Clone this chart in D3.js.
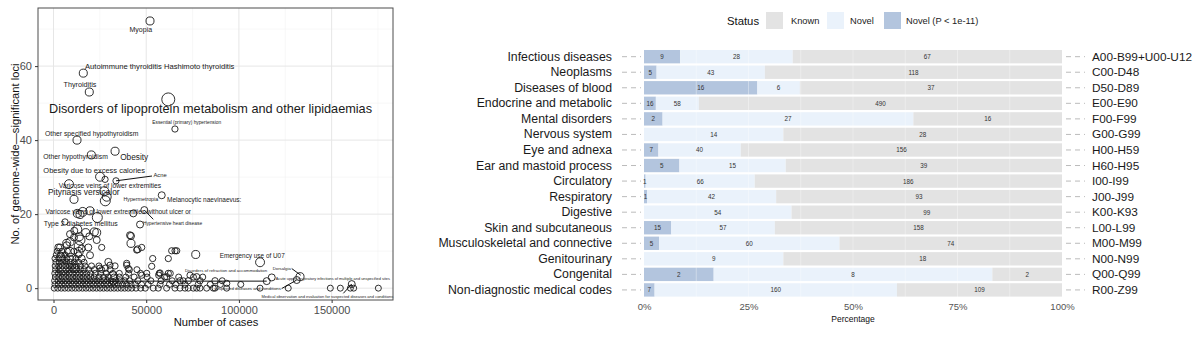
<!DOCTYPE html>
<html>
<head>
<meta charset="utf-8">
<script src="https://cdn.jsdelivr.net/npm/d3@7"></script>
<style>
  html, body { margin: 0; padding: 0; background: #fff; }
  svg { display: block; font-family: "Liberation Sans", Arial, Helvetica, sans-serif; }
</style>
</head>
<body>
<svg id="chart" width="1200" height="337"></svg>
<script>
// ===== DATA: scatter (cases vs genome-wide significant loci) =====
// each point: [number of cases, loci, weight]
const namedPoints = [
    [52050, 72.2, 3.3], [16070, 58.1, 3.3], [19300, 53, 3.3], [61900, 51, 8.6],
    [65500, 43, 2], [12680, 40, 3.3], [20400, 36, 3.3], [33200, 37, 3.3],
    [33700, 29, 2], [111400, 7, 4.1], [132960, 3.1, 3.3], [131180, 2.2, 2.5],
    [160850, 1.1, 2.5], [115000, 1.9, 2.5], [117700, 2.9, 2.5]
];
const otherPoints = [
    [25100, 30.1, 4.1], [27800, 29.4, 2], [8360, 28.1, 4.1], [27400, 26.2, 4.1],
    [28700, 24.7, 4.1], [27940, 23.6, 5.1], [11060, 24, 3.3], [12840, 20.2, 3.3],
    [15750, 20.6, 4.1], [19690, 20.9, 3.3], [14290, 19.9, 3.3], [23630, 19.1, 5.1],
    [6200, 17.9, 2], [46660, 17.2, 2.5], [48980, 21.1, 2.5], [43040, 20.2, 2.5],
    [58370, 25.1, 2.5], [12840, 15.9, 4.1], [17370, 15, 3.3], [23300, 15, 3.3],
    [8900, 14.6, 2.5], [14290, 13, 5.1], [23300, 13, 2.5], [2590, 11, 2.5],
    [7120, 12.1, 3.3], [11060, 13.7, 2.5], [13590, 11.4, 4.1], [18770, 11, 2.5],
    [26000, 11, 2], [41800, 14.1, 2.5], [41800, 12.1, 3.3], [45420, 10.5, 2.5],
    [47580, 11, 2], [8900, 9.8, 4.1], [13590, 9.8, 4.1], [19690, 8.9, 2.5],
    [3880, 8.5, 3.3], [9280, 8, 5.1], [15210, 8, 2.5], [29560, 7.1, 2.5],
    [30480, 6.2, 2], [33170, 6, 2], [39480, 6.2, 2], [40350, 5.3, 2],
    [53500, 8, 2], [52970, 5.9, 2], [61920, 8, 2], [63750, 10.1, 2],
    [65540, 10.1, 2], [56740, 3.5, 2], [61060, 3.1, 2], [50270, 4, 2],
    [47580, 3.5, 2], [31930, 3.1, 5.1], [5290, 5.3, 7.3], [11600, 5.3, 3.3],
    [44880, 10.3, 2], [66450, 10.1, 2], [76700, 9.1, 3.3], [57450, 4.1, 2],
    [61920, 4, 2], [39480, 6.7, 2], [40890, 5, 2], [68240, 2, 2],
    [72710, 2, 2], [79020, 2, 2], [87110, 2, 2], [93420, 1.3, 2],
    [73630, 3.5, 2], [77240, 3.1, 2], [32260, 1.7, 2], [25000, 5.4, 2],
    [28000, 5.4, 2], [11200, 15.5, 2.5], [13900, 13.9, 3.3], [8900, 12.5, 3.3],
    [19300, 14, 2.5], [22000, 15.2, 3.3], [3500, 11, 2.5], [7100, 11.6, 2.5],
    [15200, 10.7, 2.5], [41260, 14.3, 2.5]
];
// small-count rows, number of cases read per loci level
const casesAt0 = [400, 2300, 4200, 6100, 8000, 9900, 11800, 13700, 15600, 17500, 19400, 21300, 23200,
    25100, 27000, 28900, 30800, 32700, 34600, 36500, 38400, 40300, 42200, 44500, 47000, 49500, 53800,
    56500, 61000, 65500, 68200, 70900, 72700, 75400, 77200, 79000, 82600, 86200, 87100, 93400, 111400,
    126600, 149300, 154700, 160100, 161900, 175200];
const casesAt1 = [800, 2700, 4600, 6500, 8400, 10300, 12200, 14100, 16000, 17900, 19800, 21700, 23600,
    25500, 27400, 29300, 31200, 33100, 35000, 37200, 39500, 41800, 44000, 47500, 51000, 57500, 62500,
    66000, 71000, 78000, 84500, 90000, 101000];
const casesAt2 = [600, 2500, 4400, 6300, 8200, 10100, 12000, 13900, 15800, 17700, 19600, 21500, 23400,
    25300, 27200, 29100, 31000, 33500, 36000, 38500, 41000, 45500, 52500, 58000, 64000, 70000, 91000];
const casesAt3 = [1000, 2900, 4800, 6700, 8600, 10500, 12400, 14300, 16200, 18100, 20000, 22000, 24500,
    27000, 29500, 32500, 35500, 39000, 43500, 50500, 60000, 67500, 75500, 80500];
const casesAt4 = [700, 2600, 4500, 6400, 8300, 10200, 12100, 14000, 15900, 17800, 20000, 22500, 25500,
    28500, 32000, 35500, 40500, 47000, 57000, 63000];
const casesAt5 = [1100, 3000, 4900, 6800, 8700, 10600, 12500, 14400, 16500, 19000, 22000, 26000, 30500, 45000];
const casesAt6 = [900, 2800, 4700, 6600, 8500, 10400, 12300, 14500, 17000, 20500, 24500];
const casesAt7 = [1300, 3200, 5100, 7000, 9000, 11200, 13500, 16500];
const casesAt8 = [800, 2900, 5000, 7200, 9300, 12000];
const casesAt9 = [1500, 3800, 6200, 13600];
const casesAt10 = [2000, 4500, 7500, 11000];

const scatterXTicks = [0, 50000, 100000, 150000];
const scatterYTicks = [0, 20, 40, 60];

// repelled labels: [text, cases, loci, font px]
const annotations = [
    ['Myopia', 47090, 70, 7],
    ['Autoimmune thyroiditis Hashimoto thyroiditis', 57290, 59.9, 7.6],
    ['Thyroiditis', 14290, 54.9, 7.2],
    ['Disorders of lipoprotein metabolism and other lipidaemias', 84690, 48.3, 12.7],
    ['Essential (primary) hypertension', 71850, 44.8, 4.8],
    ['Other specified hypothyroidism', 20600, 41.9, 6.8],
    ['Other hypothyroidism', 11870, 35.5, 6.8],
    ['Obesity', 43530, 35.4, 8.3],
    ['Obesity due to excess calories', 21950, 31.9, 7.5],
    ['Acne', 57450, 30.5, 5.8],
    ['Varicose veins of lower extremities', 30440, 27.8, 6.7],
    ['Pityriasis versicolor', 16360, 25.9, 8.4],
    ['Hypermetropia', 47090, 24, 5.3],
    ['Melanocytic naevinaevus:', 81290, 24, 6.5],
    ['Varicose veins of lower extremities without ulcer or', 34950, 20.6, 6.5],
    ['Type 2 diabetes mellitus', 14730, 17.6, 6.9],
    ['Hypertensive heart disease', 64190, 17.6, 4.9],
    ['Emergency use of U07', 107180, 8.7, 6.4],
    ['Disorders of refraction and accommodation', 93050, 4.7, 4.3],
    ['Dorsalgia', 123090, 5.3, 4.3],
    ['Acute upper respiratory infections of multiple and unspecified sites', 150650, 2.6, 3.9],
    ['suspected diseases and conditions', 104660, 0, 4.3],
    ['Medical observation and evaluation for suspected diseases and conditions', 147690, -2.35, 4]
];
// leader segments: [cases1, loci1, cases2, loci2]
const leaders = [
    [33700, 29, 53130, 30.3],
    [48980, 21.1, 53830, 18.6],
    [128480, 5.3, 133340, 3.5],
    [123090, -0.1, 131180, 2.2],
    [156320, -1.4, 160850, 1.1],
    [2000, 1.9, 115000, 1.9]
];

// ===== DATA: stacked bars =====
const categories = ['Infectious diseases', 'Neoplasms', 'Diseases of blood', 'Endocrine and metabolic',
    'Mental disorders', 'Nervous system', 'Eye and adnexa', 'Ear and mastoid process', 'Circulatory',
    'Respiratory', 'Digestive', 'Skin and subcutaneous', 'Musculoskeletal and connective',
    'Genitourinary', 'Congenital', 'Non-diagnostic medical codes'];
const icdCodes = ['A00-B99+U00-U12', 'C00-D48', 'D50-D89', 'E00-E90', 'F00-F99', 'G00-G99', 'H00-H59',
    'H60-H95', 'I00-I99', 'J00-J99', 'K00-K93', 'L00-L99', 'M00-M99', 'N00-N99', 'Q00-Q99', 'R00-Z99'];
const novelSigCounts = [9, 5, 16, 16, 2, 0, 7, 5, 1, 1, 0, 15, 5, 0, 2, 7];
const novelCounts = [28, 43, 6, 58, 27, 14, 40, 15, 66, 42, 54, 57, 60, 9, 8, 160];
const knownCounts = [67, 118, 37, 490, 16, 28, 156, 39, 186, 93, 99, 158, 74, 18, 2, 109];
const statusKeys = ['novelSig', 'novel', 'known'];
const statusLabels = ['Known', 'Novel', 'Novel (P < 1e-11)'];
const pctTicks = [0, 0.25, 0.5, 0.75, 1];

const svg = d3.select('#chart');

// ===== SCATTER PANEL =====
const sx = d3.scaleLinear().domain([-8360, 183100]).range([38, 393]);
const sy = d3.scaleLinear().domain([-3.2, 75.7]).range([300, 8]);
const rScale = d3.scaleSqrt().domain([0, 10]).range([0, 7]);

const left = svg.append('g');

// minor + major grid
const minorX = [25000, 75000, 125000, 175000], minorY = [10, 30, 50, 70];
left.selectAll('.gx-minor').data(minorX).enter().append('line')
    .attr('x1', d => sx(d)).attr('x2', d => sx(d)).attr('y1', 8).attr('y2', 300)
    .attr('stroke', '#f2f2f2').attr('stroke-width', 0.6);
left.selectAll('.gy-minor').data(minorY).enter().append('line')
    .attr('y1', d => sy(d)).attr('y2', d => sy(d)).attr('x1', 38).attr('x2', 393)
    .attr('stroke', '#f2f2f2').attr('stroke-width', 0.6);
left.selectAll('.gx').data(scatterXTicks).enter().append('line')
    .attr('x1', d => sx(d)).attr('x2', d => sx(d)).attr('y1', 8).attr('y2', 300)
    .attr('stroke', '#e6e6e6').attr('stroke-width', 1);
left.selectAll('.gy').data(scatterYTicks).enter().append('line')
    .attr('y1', d => sy(d)).attr('y2', d => sy(d)).attr('x1', 38).attr('x2', 393)
    .attr('stroke', '#e6e6e6').attr('stroke-width', 1);

// points
const rows = [casesAt0, casesAt1, casesAt2, casesAt3, casesAt4, casesAt5, casesAt6,
    casesAt7, casesAt8, casesAt9, casesAt10];
const allPoints = [];
rows.forEach((row, loci) => row.forEach(c => allPoints.push([c, loci, 1.85])));
otherPoints.forEach(p => allPoints.push(p));
namedPoints.forEach(p => allPoints.push(p));

left.selectAll('.pt').data(allPoints).enter().append('circle')
    .attr('cx', d => sx(d[0])).attr('cy', d => sy(d[1])).attr('r', d => rScale(d[2]))
    .attr('fill', 'none').attr('stroke', '#1a1a1a').attr('stroke-width', 0.9);

// leader segments + labels
left.selectAll('.lead').data(leaders).enter().append('line')
    .attr('x1', d => sx(d[0])).attr('y1', d => sy(d[1]))
    .attr('x2', d => sx(d[2])).attr('y2', d => sy(d[3]))
    .attr('stroke', '#111').attr('stroke-width', 1);
left.selectAll('.ann').data(annotations).enter().append('text')
    .attr('x', d => sx(d[1])).attr('y', d => sy(d[2]))
    .attr('text-anchor', 'middle').attr('dominant-baseline', 'central')
    .attr('font-size', d => d[3] + 'px').attr('fill', '#1a1a1a')
    .text(d => d[0]);

// border
left.append('rect').attr('x', 38).attr('y', 8).attr('width', 355).attr('height', 292)
    .attr('fill', 'none').attr('stroke', '#4d4d4d').attr('stroke-width', 1);

// axes
const xAxisL = left.append('g').attr('transform', 'translate(0,300)')
    .call(d3.axisBottom(sx).tickValues(scatterXTicks).tickFormat(d3.format('d')).tickSize(3).tickPadding(3));
const yAxisL = left.append('g').attr('transform', 'translate(38,0)')
    .call(d3.axisLeft(sy).tickValues(scatterYTicks).tickSize(3).tickPadding(3));
[xAxisL, yAxisL].forEach(a => {
    a.select('.domain').remove();
    a.selectAll('line').attr('stroke', '#333');
    a.selectAll('text').attr('fill', '#4d4d4d').attr('font-size', '11px')
        .attr('font-family', '"Liberation Sans", Arial, sans-serif');
});
left.append('text').attr('x', 216).attr('y', 326).attr('text-anchor', 'middle')
    .attr('font-size', '11.2px').attr('fill', '#111').text('Number of cases');
left.append('text').attr('transform', 'translate(15,154) rotate(-90)').attr('text-anchor', 'middle')
    .attr('dominant-baseline', 'central')
    .attr('font-size', '11.2px').attr('fill', '#111').text('No. of genome-wide\u2014significant loci');

// ===== STACKED BAR PANEL =====
const barRows = categories.map((c, i) => ({
    cat: c, code: icdCodes[i],
    novelSig: novelSigCounts[i], novel: novelCounts[i], known: knownCounts[i]
}));
const bx = d3.scaleLinear().domain([0, 1]).range([644, 1062]);
const by = d3.scaleBand().domain(categories).range([48.9, 297.7]).paddingInner(0.14).paddingOuter(0.07);
const fills = { known: '#e3e3e3', novel: '#eaf2fb', novelSig: '#b3c5de' };

const stacked = d3.stack().keys(statusKeys).offset(d3.stackOffsetExpand)(barRows);
const right = svg.append('g');

stacked.forEach(layer => {
    right.selectAll('.seg-' + layer.key).data(layer).enter().append('rect')
        .attr('x', d => bx(d[0])).attr('width', d => bx(d[1]) - bx(d[0]))
        .attr('y', d => by(d.data.cat)).attr('height', by.bandwidth())
        .attr('fill', fills[layer.key]);
});
// faint grid showing through bars
right.selectAll('.vgrid').data([0.125, 0.25, 0.375, 0.5, 0.625, 0.75, 0.875]).enter().append('line')
    .attr('x1', d => bx(d)).attr('x2', d => bx(d)).attr('y1', 48.9).attr('y2', 297.7)
    .attr('stroke', '#fff').attr('stroke-opacity', 0.35).attr('stroke-width', 1);

stacked.forEach(layer => {
    right.selectAll('.lab-' + layer.key).data(layer.filter(d => d.data[layer.key] > 0)).enter().append('text')
        .attr('x', d => (bx(d[0]) + bx(d[1])) / 2)
        .attr('y', d => by(d.data.cat) + by.bandwidth() / 2)
        .attr('text-anchor', 'middle').attr('dominant-baseline', 'central')
        .attr('font-size', '6.3px').attr('fill', '#333')
        .text(d => d.data[layer.key]);
});

// dashed tick marks each side
right.selectAll('.tl').data(categories).enter().append('line')
    .attr('x1', 622).attr('x2', 641)
    .attr('y1', d => by(d) + by.bandwidth() / 2).attr('y2', d => by(d) + by.bandwidth() / 2)
    .attr('stroke', '#bbb').attr('stroke-width', 1).attr('stroke-dasharray', '5,4');
right.selectAll('.tr').data(categories).enter().append('line')
    .attr('x1', 1066).attr('x2', 1085)
    .attr('y1', d => by(d) + by.bandwidth() / 2).attr('y2', d => by(d) + by.bandwidth() / 2)
    .attr('stroke', '#bbb').attr('stroke-width', 1).attr('stroke-dasharray', '5,4');

right.selectAll('.catlab').data(barRows).enter().append('text')
    .attr('x', 612).attr('y', d => by(d.cat) + by.bandwidth() / 2)
    .attr('text-anchor', 'end').attr('dominant-baseline', 'central')
    .attr('font-size', '12.3px').attr('fill', '#1a1a1a').text(d => d.cat);
right.selectAll('.codelab').data(barRows).enter().append('text')
    .attr('x', 1092).attr('y', d => by(d.cat) + by.bandwidth() / 2)
    .attr('dominant-baseline', 'central')
    .attr('font-size', '11.8px').attr('fill', '#1a1a1a').text(d => d.code);

const pctAxis = right.append('g').attr('transform', 'translate(0,298)')
    .call(d3.axisBottom(bx).tickValues(pctTicks).tickFormat(d3.format('.0%')).tickSize(0).tickPadding(5));
pctAxis.select('.domain').remove();
pctAxis.selectAll('text').attr('fill', '#555').attr('font-size', '9.5px')
    .attr('font-family', '"Liberation Sans", Arial, sans-serif');
right.append('text').attr('x', 853).attr('y', 319).attr('text-anchor', 'middle')
    .attr('dominant-baseline', 'central').attr('font-size', '8.5px').attr('fill', '#111').text('Percentage');

// legend
const legend = right.append('g');
legend.append('text').attr('x', 727).attr('y', 20.5).attr('dominant-baseline', 'central')
    .attr('font-size', '11.3px').attr('fill', '#111').text('Status');
const legendItems = [
    { key: 'known', label: statusLabels[0], kx: 766, tx: 791 },
    { key: 'novel', label: statusLabels[1], kx: 827, tx: 850 },
    { key: 'novelSig', label: statusLabels[2], kx: 884, tx: 906 }
];
legendItems.forEach(it => {
    legend.append('rect').attr('x', it.kx).attr('y', 12).attr('width', 17).attr('height', 17)
        .attr('fill', fills[it.key]);
    legend.append('text').attr('x', it.tx).attr('y', 20.5).attr('dominant-baseline', 'central')
        .attr('font-size', '9.3px').attr('fill', '#222').text(it.label);
});
</script>
</body>
</html>
